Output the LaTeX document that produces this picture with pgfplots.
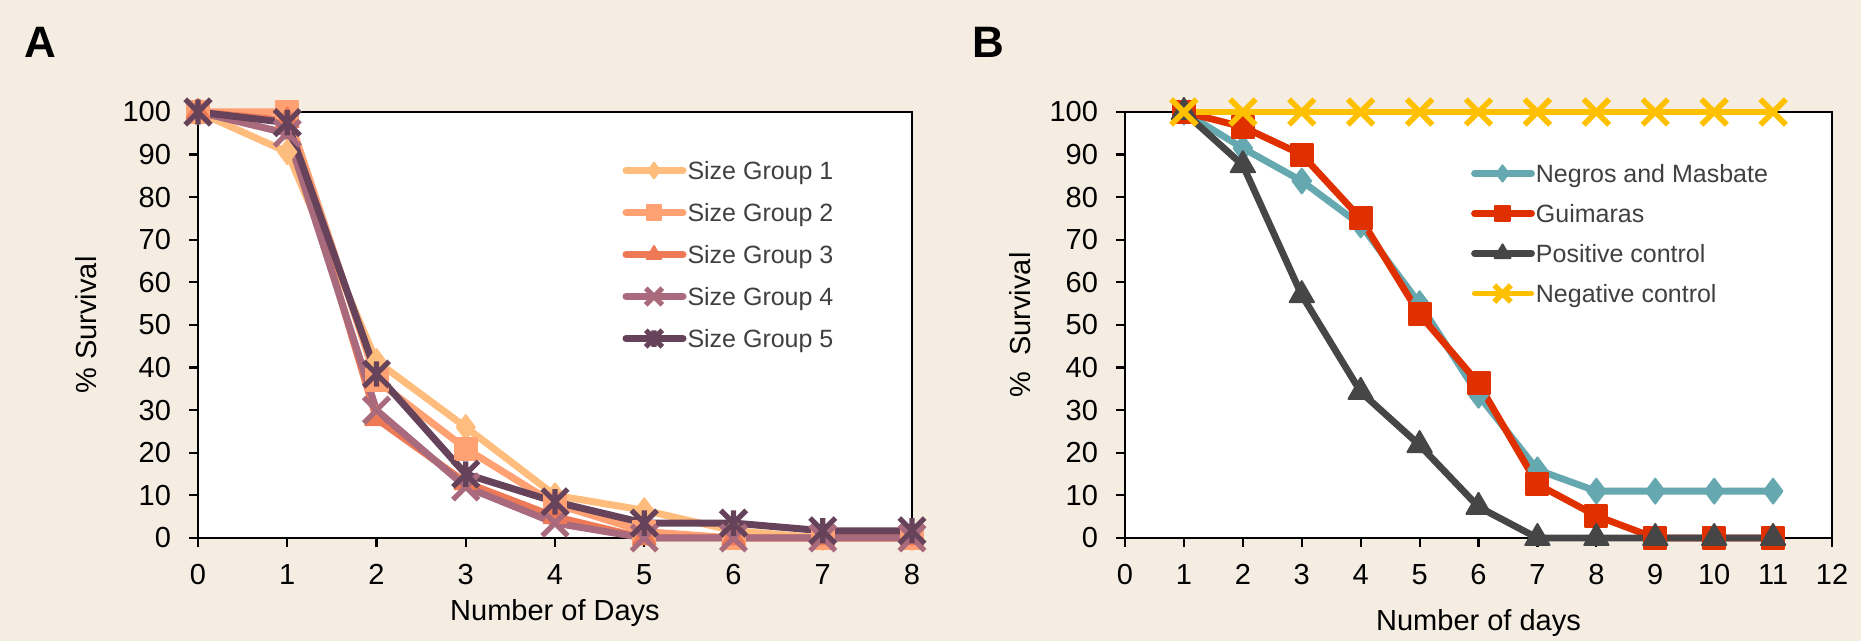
\documentclass[border=0pt]{standalone}
\usepackage{fontspec}
\setmainfont{Liberation Sans}
\usepackage{pgfplots}
\pgfplotsset{compat=1.18}

\definecolor{bgbeige}{RGB}{245,237,226}
\definecolor{legtext}{RGB}{64,64,64}
\definecolor{gA}{RGB}{255,189,125}
\definecolor{gB}{RGB}{255,161,115}
\definecolor{gC}{RGB}{237,121,86}
\definecolor{gD}{RGB}{168,106,124}
\definecolor{gE}{RGB}{102,67,91}
\definecolor{nteal}{RGB}{102,168,176}
\definecolor{gred}{RGB}{224,48,0}
\definecolor{pgray}{RGB}{70,70,70}
\definecolor{nyellow}{RGB}{255,192,0}

% Excel-like star marker: an x with a vertical bar through it
\pgfdeclareplotmark{xstar}{%
  \pgfpathmoveto{\pgfqpoint{-.7071\pgfplotmarksize}{-.7071\pgfplotmarksize}}%
  \pgfpathlineto{\pgfqpoint{.7071\pgfplotmarksize}{.7071\pgfplotmarksize}}%
  \pgfpathmoveto{\pgfqpoint{-.7071\pgfplotmarksize}{.7071\pgfplotmarksize}}%
  \pgfpathlineto{\pgfqpoint{.7071\pgfplotmarksize}{-.7071\pgfplotmarksize}}%
  \pgfpathmoveto{\pgfqpoint{0pt}{-.7071\pgfplotmarksize}}%
  \pgfpathlineto{\pgfqpoint{0pt}{.7071\pgfplotmarksize}}%
  \pgfusepathqstroke}

\pgfplotsset{
  surv/.style={
    scale only axis, height=213pt,
    ymin=0, ymax=100, ytick={0,10,...,100},
    clip=false,
    axis background/.style={fill=white},
    axis line style={line width=1.1pt, black},
    tick style={line width=1.1pt, black},
    major tick length=4.5pt, tick align=outside,
    xtick pos=bottom, ytick pos=left,
    tick label style={font=\fontsize{14.5}{16}\selectfont, black},
    /pgf/number format/assume math mode=true,
    yticklabel style={xshift=-5.5pt},
    xticklabel style={yshift=-5pt},
    label style={font=\fontsize{14.5}{17}\selectfont, black},
    ylabel style={anchor=center, rotate=0},
    xlabel style={anchor=base, inner sep=0pt},
    legend cell align=left,
    legend style={draw=none, fill=none, anchor=north west,
      inner xsep=0pt, inner ysep=0pt,
      font=\fontsize{12.5}{15}\selectfont, text=legtext,
      nodes={inner sep=0.5pt, text height=9pt, text depth=0pt}},
    legend image code/.code={\draw[mark repeat=2,mark phase=2] plot coordinates {(0pt,0pt)(14pt,0pt)(28.5pt,0pt)};},
    legend image post style={every mark/.append style={scale=0.65}},
    every axis plot/.append style={line cap=round, line join=round},
  }
}

\begin{document}
\begin{tikzpicture}
\fill[bgbeige] (0pt,0pt) rectangle (930.5pt,320.5pt);
\node[font=\bfseries\fontsize{22}{24}\selectfont] at (20pt,299.5pt) {A};
\node[font=\bfseries\fontsize{22}{24}\selectfont] at (494pt,299.5pt) {B};

\begin{axis}[surv,
  at={(99pt,51.5pt)}, anchor=south west,
  width=357pt,
  xmin=0, xmax=8, xtick={0,...,8},
  xlabel={Number of Days},
  ylabel={\% Survival},
  xlabel style={at={(axis description cs:0.5,-0.1925)}},
  ylabel style={at={(axis description cs:-0.157,0.5)}},
  legend style={at={(axis description cs:0.594,0.887)}, row sep=11pt},
]
\addplot[color=gA, line width=3.5pt, mark=diamond*, mark size=6pt, mark options={fill=gA, line width=1pt}] coordinates {
  (0,100)(1,90.6)(2,41.5)(3,26)(4,10)(5,6.5)(6,1.7)(7,0)(8,0)};
\addplot[color=gB, line width=3.5pt, mark=square*, mark size=5.5pt, mark options={fill=gB, line width=1pt}] coordinates {
  (0,100)(1,100)(2,37)(3,21)(4,8)(5,1.5)(6,0)(7,0)(8,0)};
\addplot[color=gC, line width=3.5pt, mark=triangle*, mark size=6.5pt, mark options={fill=gC, line width=1pt}] coordinates {
  (0,100)(1,98)(2,28)(3,13)(4,5)(5,0)(6,0)(7,0)(8,0)};
\addplot[color=gD, line width=3.5pt, mark=x, mark size=9pt, mark options={line width=2.6pt, line cap=butt}] coordinates {
  (0,100)(1,95)(2,30)(3,12)(4,3.5)(5,0)(6,0)(7,0)(8,0)};
\addplot[color=gE, line width=3.5pt, mark=xstar, mark size=9pt, mark options={line width=2.6pt, line cap=butt}] coordinates {
  (0,100)(1,97.5)(2,38.5)(3,15)(4,8.5)(5,3.5)(6,3.5)(7,1.7)(8,1.7)};
\legend{Size Group 1, Size Group 2, Size Group 3, Size Group 4, Size Group 5}
\end{axis}

\begin{axis}[surv,
  at={(562.5pt,51.5pt)}, anchor=south west,
  width=353.5pt,
  xmin=0, xmax=12, xtick={0,...,12},
  xlabel={Number of days},
  ylabel={\% \ Survival},
  xlabel style={at={(axis description cs:0.5,-0.218)}},
  ylabel style={at={(axis description cs:-0.1485,0.5)}},
  legend style={at={(axis description cs:0.489,0.880)}, row sep=10pt},
]
\addplot[color=nteal, line width=3.4pt, mark=diamond*, mark size=6.2pt, mark options={fill=nteal, line width=1pt}] coordinates {
  (1,100)(2,91.5)(3,83.8)(4,73.5)(5,55)(6,33.5)(7,16)(8,11)(9,11)(10,11)(11,11)};
\addplot[color=gred, line width=3.4pt, mark=square*, mark size=5.5pt, mark options={fill=gred, line width=1pt}] coordinates {
  (1,100)(2,96.5)(3,90)(4,75)(5,52.5)(6,36.3)(7,12.6)(8,5.2)(9,0)(10,0)(11,0)};
\addplot[color=pgray, line width=3.4pt, mark=triangle*, mark size=7pt, mark options={fill=pgray, line width=1pt}] coordinates {
  (1,100)(2,87.5)(3,57)(4,34.3)(5,21.8)(6,7.3)(7,0)(8,0)(9,0)(10,0)(11,0)};
\addplot[color=nyellow, line width=2.6pt, mark=x, mark size=9pt, mark options={line width=2.8pt, line cap=butt}] coordinates {
  (1,100)(2,100)(3,100)(4,100)(5,100)(6,100)(7,100)(8,100)(9,100)(10,100)(11,100)};
\legend{Negros and Masbate, Guimaras, Positive control, Negative control}
\end{axis}
\pgfresetboundingbox
\path[use as bounding box] (0pt,0pt) rectangle (930.5pt,320.5pt);
\end{tikzpicture}
\end{document}
